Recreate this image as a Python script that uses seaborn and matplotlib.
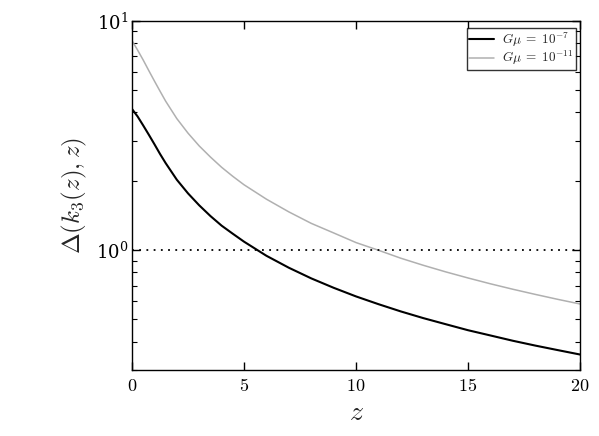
import numpy as np
import pandas as pd
import matplotlib
matplotlib.use("Agg")
import matplotlib.pyplot as plt
import matplotlib.ticker as ticker
import seaborn as sns

# ---------------------------------------------------------------------------
# Data
# ---------------------------------------------------------------------------
z_vals = [0, 0.25, 0.5, 0.75, 1, 1.25, 1.5, 2, 2.5, 3, 3.5, 4, 4.5, 5, 6, 7,
          8, 9, 10, 11, 12, 13, 14, 15, 16, 17, 18, 19, 20]
delta_gmu7 = [4.13, 3.83, 3.50, 3.19, 2.90, 2.63, 2.40, 2.03, 1.77, 1.57, 1.41,
              1.28, 1.18, 1.09, 0.946, 0.839, 0.754, 0.686, 0.629, 0.582,
              0.541, 0.506, 0.476, 0.448, 0.425, 0.403, 0.384, 0.367, 0.351]
delta_gmu11 = [8.20, 7.46, 6.75, 6.07, 5.47, 4.94, 4.47, 3.75, 3.24, 2.85, 2.55,
               2.30, 2.10, 1.93, 1.67, 1.47, 1.31, 1.19, 1.08, 1.00, 0.923,
               0.860, 0.805, 0.757, 0.714, 0.676, 0.642, 0.611, 0.583]
labels = [r"$G\mu\;=\;10^{-7}$", r"$G\mu\;=\;10^{-11}$"]
colors = ["black", "#b0b0b0"]
widths = [1.5, 1.1]

df = pd.DataFrame({
    "z": z_vals * 2,
    "delta": delta_gmu7 + delta_gmu11,
    "series": [labels[0]] * len(z_vals) + [labels[1]] * len(z_vals),
})

# ---------------------------------------------------------------------------
# Style
# ---------------------------------------------------------------------------
sns.set_style("ticks")
plt.rcParams["font.family"] = ["serif"]
plt.rcParams["font.serif"] = ["DejaVu Serif"]
plt.rcParams["mathtext.fontset"] = "cm"
plt.rcParams["axes.linewidth"] = 1.0

fig = plt.figure(figsize=(5.99, 4.36), dpi=100)
ax = fig.add_axes([0.2204, 0.151, 0.748, 0.801])

for lab, col, lw in zip(labels, colors, widths):
    sns.lineplot(data=df[df["series"] == lab], x="z", y="delta",
                 color=col, linewidth=lw, label=lab, ax=ax)

ax.axhline(1.0, color="black", linestyle=(0, (1, 3.0)), linewidth=1.3)

ax.set_yscale("log")
ax.set_xlim(0, 20)
ax.set_ylim(0.3, 10)
ax.xaxis.set_major_locator(ticker.MultipleLocator(5))
ax.xaxis.set_major_formatter(ticker.FuncFormatter(lambda v, p: rf"${v:.0f}$"))
ax.yaxis.set_major_locator(ticker.LogLocator(base=10, numticks=5))
ax.yaxis.set_minor_locator(ticker.LogLocator(base=10, subs=np.arange(2, 10), numticks=20))
ax.yaxis.set_minor_formatter(ticker.NullFormatter())

ax.tick_params(which="both", direction="in", top=True, right=True,
               labelsize=13, colors="black")
ax.tick_params(which="major", length=6, width=1)
ax.tick_params(which="minor", length=3.5, width=0.8)
ax.tick_params(axis="x", pad=5)
ax.tick_params(axis="y", pad=3)

ax.set_xlabel(r"$z$", fontsize=20, labelpad=3)
ax.set_ylabel(r"$\Delta(k_3(z),z)$", fontsize=18, labelpad=5)

for s in ax.spines.values():
    s.set_visible(True)
    s.set_linewidth(1.0)
    s.set_color("black")

leg = ax.legend(loc="upper right", bbox_to_anchor=(0.991, 0.98),
                borderaxespad=0, fontsize=9.5, frameon=True, fancybox=False,
                handlelength=1.9, borderpad=0.2, labelspacing=0.0,
                handletextpad=0.6)
leg.get_frame().set_edgecolor("black")
leg.get_frame().set_linewidth(1.0)

fig.savefig("out.png", dpi=100)
